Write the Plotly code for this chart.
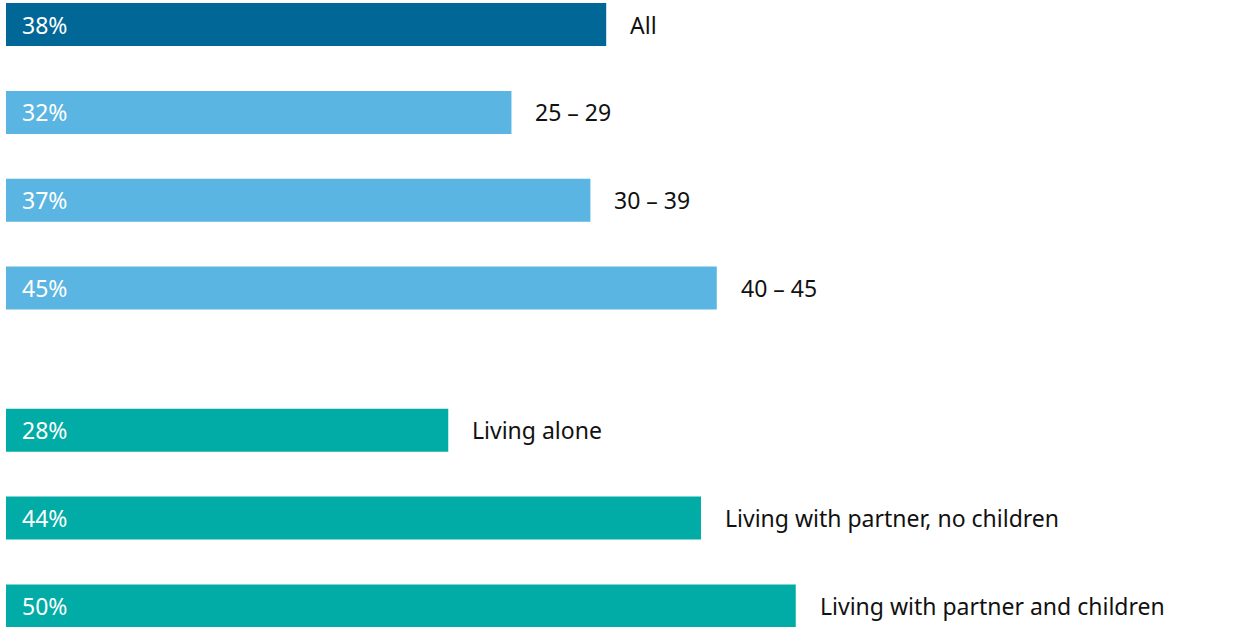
import plotly.graph_objects as go

categories = ["All", "25 – 29", "30 – 39", "40 – 45",
              "Living alone", "Living with partner, no children",
              "Living with partner and children"]
values = [38, 32, 37, 45, 28, 44, 50]
groups = [0, 1, 1, 1, 2, 2, 2]
value_labels = ["38%", "32%", "37%", "45%", "28%", "44%", "50%"]

group_colors = {0: "#006797", 1: "#5ab5e2", 2: "#00aca5"}
FONT = "Noto Sans"

# vertical slot positions: one slot per bar, extra gap between age and household groups
positions = []
for i, g in enumerate(groups):
    extra = 0.62 if g == 2 else 0.0
    positions.append(i + extra)

fig = go.Figure()
fig.add_trace(go.Bar(
    x=values,
    y=positions,
    orientation="h",
    width=0.49,
    marker=dict(color=[group_colors[g] for g in groups], line=dict(width=0)),
    hoverinfo="skip",
))

for v, p, c, lab in zip(values, positions, categories, value_labels):
    fig.add_annotation(
        x=v, y=p, text=c, showarrow=False,
        xanchor="left", yanchor="middle", xshift=22,
        font=dict(size=23, color="#111111", family=FONT),
    )
    fig.add_annotation(
        x=0, y=p, text=lab, showarrow=False,
        xanchor="left", yanchor="middle", xshift=14,
        font=dict(size=23, color="white", family=FONT),
    )

fig.update_layout(
    width=1238, height=627,
    margin=dict(l=6, r=0, t=0, b=0, pad=0, autoexpand=False),
    paper_bgcolor="white", plot_bgcolor="white",
    showlegend=False,
    xaxis=dict(range=[0, 78], visible=False, fixedrange=True),
    yaxis=dict(range=[6.86, -0.28], visible=False, fixedrange=True),
)

fig.write_html(
    "out.html",
    config={"displayModeBar": False, "staticPlot": True},
    post_script="document.body.style.margin='0';",
)
